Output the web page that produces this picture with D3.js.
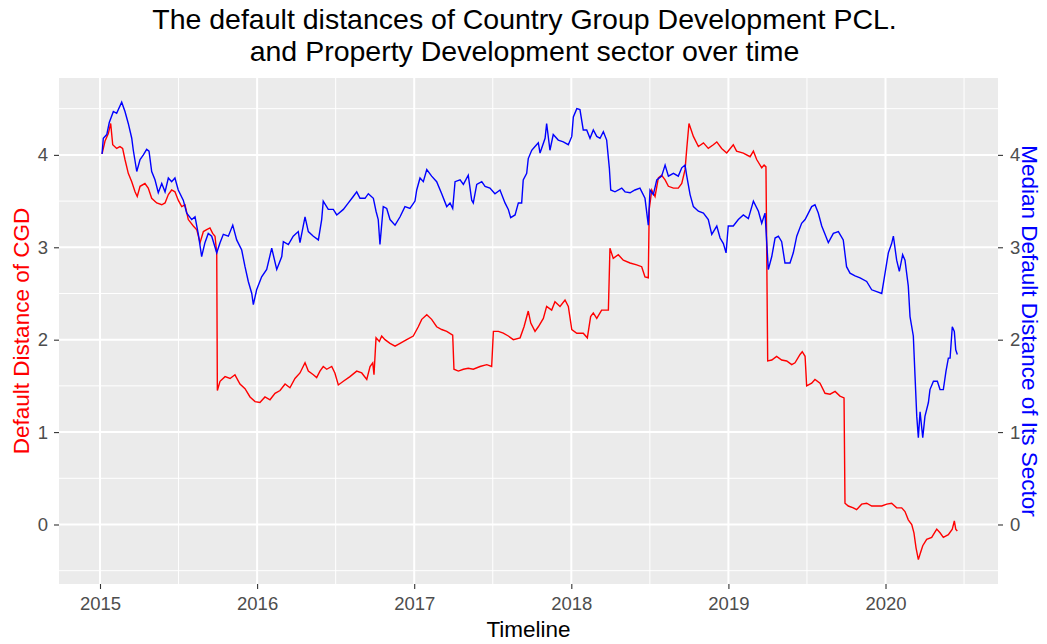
<!DOCTYPE html>
<html>
<head>
<meta charset="utf-8">
<script src="https://cdn.jsdelivr.net/npm/d3@7"></script>
<style>
  body { margin: 0; background: #fff; }
  text { font-family: "Liberation Sans", Arial, sans-serif; }
</style>
</head>
<body>
<div class="chart"></div>
<script>
// CGD default distance (left axis)
const cgdYear = [2015.013,2015.032,2015.053,2015.068,2015.081,2015.106,2015.127,2015.144,2015.159,2015.180,2015.202,2015.223,2015.237,2015.255,2015.286,2015.307,2015.329,2015.361,2015.393,2015.414,2015.435,2015.456,2015.477,2015.498,2015.520,2015.541,2015.562,2015.594,2015.616,2015.637,2015.658,2015.679,2015.700,2015.717,2015.732,2015.743,2015.747,
  2015.764,2015.796,2015.828,2015.859,2015.891,2015.923,2015.955,2015.987,2016.018,2016.050,2016.082,2016.114,2016.146,2016.178,2016.209,2016.241,2016.273,2016.305,2016.326,2016.358,2016.379,2016.400,2016.421,2016.443,2016.475,2016.495,2016.517,2016.549,2016.591,2016.634,2016.666,2016.698,2016.719,2016.736,2016.744,2016.757,2016.778,2016.793,2016.814,2016.846,2016.878,2016.910,2016.952,2016.994,
  2017.026,2017.048,2017.080,2017.111,2017.143,2017.175,2017.207,2017.245,2017.253,2017.281,2017.313,2017.344,2017.376,2017.419,2017.462,2017.493,2017.504,2017.536,2017.567,2017.599,2017.631,2017.674,2017.699,2017.726,2017.742,2017.769,2017.790,2017.822,2017.843,2017.875,2017.896,2017.928,2017.960,2017.981,
  2018.003,2018.035,2018.076,2018.102,2018.123,2018.140,2018.162,2018.193,2018.236,2018.246,2018.267,2018.299,2018.331,2018.374,2018.416,2018.448,2018.469,2018.490,2018.496,2018.512,2018.533,2018.554,2018.575,2018.597,2018.618,2018.650,2018.681,2018.703,2018.724,2018.735,2018.749,2018.777,2018.809,2018.841,2018.872,2018.904,2018.926,2018.957,2018.989,
  2019.031,2019.052,2019.095,2019.138,2019.159,2019.180,2019.212,2019.227,2019.239,2019.250,2019.276,2019.307,2019.339,2019.371,2019.403,2019.424,2019.456,2019.470,2019.488,2019.498,2019.530,2019.551,2019.583,2019.615,2019.647,2019.679,2019.710,2019.736,2019.742,2019.763,2019.795,2019.816,2019.848,2019.880,2019.912,2019.944,2019.976,
  2020.008,2020.039,2020.071,2020.103,2020.124,2020.145,2020.167,2020.181,2020.194,2020.209,2020.220,2020.237,2020.262,2020.294,2020.326,2020.347,2020.368,2020.400,2020.425,2020.438,2020.447,2020.457];
const cgdValue = [4.01,4.15,4.23,4.34,4.11,4.07,4.09,4.07,3.95,3.80,3.71,3.60,3.55,3.66,3.69,3.64,3.53,3.48,3.46,3.48,3.57,3.62,3.60,3.51,3.44,3.46,3.30,3.23,3.19,3.05,3.17,3.19,3.21,3.15,3.12,2.94,1.45,
  1.55,1.60,1.58,1.62,1.52,1.47,1.38,1.33,1.32,1.38,1.35,1.42,1.45,1.52,1.48,1.58,1.64,1.75,1.66,1.62,1.59,1.66,1.71,1.68,1.71,1.64,1.51,1.55,1.60,1.66,1.64,1.57,1.71,1.75,1.62,2.02,1.98,2.04,2.00,1.96,1.93,1.96,2.00,2.04,
  2.14,2.22,2.27,2.22,2.14,2.11,2.09,2.05,1.68,1.66,1.68,1.69,1.68,1.71,1.73,1.71,2.09,2.09,2.07,2.04,2.00,2.02,2.14,2.31,2.18,2.09,2.14,2.23,2.36,2.32,2.41,2.36,2.43,2.36,
  2.11,2.07,2.07,2.02,2.25,2.29,2.23,2.32,2.32,2.99,2.88,2.92,2.86,2.83,2.81,2.79,2.68,2.67,3.41,3.62,3.55,3.75,3.78,3.73,3.66,3.64,3.64,3.69,3.84,4.07,4.34,4.20,4.09,4.13,4.07,4.11,4.14,4.07,4.02,
  4.11,4.04,4.02,3.98,4.04,3.95,3.86,3.89,3.87,1.77,1.78,1.82,1.78,1.77,1.73,1.75,1.84,1.87,1.82,1.50,1.53,1.57,1.53,1.42,1.41,1.44,1.39,1.37,0.23,0.20,0.18,0.16,0.22,0.23,0.20,0.20,0.20,
  0.22,0.23,0.18,0.18,0.14,0.05,0.00,-0.09,-0.25,-0.38,-0.32,-0.23,-0.16,-0.14,-0.05,-0.09,-0.14,-0.11,-0.05,0.04,-0.05,-0.07];

// median default distance of the property development sector (right axis)
const sectorYear = [2015.013,2015.021,2015.043,2015.059,2015.085,2015.106,2015.138,2015.159,2015.180,2015.202,2015.212,2015.234,2015.255,2015.276,2015.297,2015.312,2015.329,2015.350,2015.371,2015.393,2015.414,2015.435,2015.456,2015.477,2015.498,2015.530,2015.552,2015.584,2015.605,2015.626,2015.647,2015.668,2015.689,2015.711,2015.743,2015.764,2015.785,2015.817,2015.845,2015.870,2015.902,2015.923,2015.944,2015.966,2015.976,2015.997,
  2016.029,2016.061,2016.093,2016.125,2016.157,2016.167,2016.199,2016.230,2016.262,2016.273,2016.305,2016.326,2016.358,2016.390,2016.411,2016.421,2016.453,2016.485,2016.507,2016.549,2016.581,2016.612,2016.634,2016.655,2016.687,2016.708,2016.740,2016.757,2016.771,2016.782,2016.803,2016.825,2016.846,2016.878,2016.910,2016.941,2016.973,
  2017.005,2017.016,2017.037,2017.058,2017.080,2017.111,2017.143,2017.175,2017.207,2017.228,2017.245,2017.260,2017.292,2017.313,2017.344,2017.366,2017.376,2017.398,2017.430,2017.451,2017.482,2017.514,2017.546,2017.578,2017.599,2017.614,2017.642,2017.663,2017.684,2017.694,2017.716,2017.726,2017.748,2017.769,2017.790,2017.801,2017.833,2017.843,2017.864,2017.885,2017.917,2017.949,2017.981,
  2018.003,2018.013,2018.035,2018.055,2018.076,2018.098,2018.119,2018.140,2018.162,2018.183,2018.204,2018.225,2018.242,2018.251,2018.278,2018.321,2018.342,2018.374,2018.405,2018.437,2018.469,2018.490,2018.501,2018.522,2018.544,2018.575,2018.597,2018.618,2018.650,2018.681,2018.703,2018.724,2018.735,2018.756,2018.777,2018.809,2018.841,2018.872,2018.894,2018.926,2018.947,2018.968,2018.985,2018.999,
  2019.031,2019.063,2019.095,2019.127,2019.159,2019.191,2019.212,2019.233,2019.244,2019.254,2019.276,2019.297,2019.318,2019.339,2019.360,2019.392,2019.413,2019.435,2019.466,2019.488,2019.509,2019.530,2019.551,2019.572,2019.594,2019.615,2019.636,2019.668,2019.700,2019.731,2019.752,2019.774,2019.806,2019.838,2019.880,2019.912,2019.944,2019.976,2019.997,
  2020.018,2020.039,2020.050,2020.071,2020.088,2020.109,2020.124,2020.145,2020.156,2020.177,2020.188,2020.199,2020.209,2020.220,2020.237,2020.251,2020.273,2020.283,2020.305,2020.330,2020.347,2020.368,2020.385,2020.400,2020.411,2020.425,2020.438,2020.447,2020.457];
const sectorValue = [4.01,4.18,4.22,4.35,4.47,4.45,4.57,4.47,4.34,4.18,4.05,3.82,3.95,4.00,4.06,4.04,3.82,3.73,3.59,3.69,3.60,3.75,3.71,3.75,3.62,3.51,3.37,3.30,3.33,3.14,2.90,3.05,3.15,3.12,2.94,3.05,3.14,3.12,3.24,3.08,2.97,2.79,2.63,2.50,2.38,2.54,
  2.68,2.76,2.99,2.76,2.90,3.06,3.03,3.12,3.17,3.05,3.33,3.17,3.12,3.08,3.30,3.50,3.41,3.41,3.35,3.41,3.48,3.55,3.60,3.53,3.53,3.58,3.53,3.39,3.30,3.03,3.44,3.42,3.30,3.24,3.33,3.44,3.42,
  3.50,3.62,3.75,3.71,3.84,3.77,3.71,3.58,3.44,3.48,3.42,3.71,3.73,3.68,3.78,3.51,3.48,3.68,3.71,3.66,3.64,3.58,3.62,3.48,3.41,3.32,3.35,3.48,3.48,3.73,3.80,3.96,4.05,4.09,4.13,4.02,4.18,4.34,4.05,4.22,4.16,4.14,4.11,
  4.20,4.41,4.50,4.49,4.27,4.27,4.18,4.27,4.20,4.18,4.25,4.16,3.86,3.62,3.60,3.64,3.60,3.59,3.62,3.64,3.53,3.24,3.62,3.57,3.73,3.77,3.89,3.77,3.80,3.77,3.86,3.89,3.77,3.57,3.44,3.39,3.37,3.30,3.14,3.23,3.10,3.04,2.94,3.23,
  3.23,3.30,3.35,3.31,3.50,3.39,3.26,3.37,3.05,2.76,2.90,3.10,3.12,3.06,2.83,2.83,2.94,3.12,3.26,3.30,3.37,3.44,3.46,3.37,3.23,3.14,3.05,3.15,3.17,3.08,2.79,2.72,2.69,2.67,2.63,2.54,2.52,2.50,2.72,
  2.94,3.04,3.12,2.86,2.74,2.92,2.86,2.58,2.25,2.04,1.60,1.17,0.94,1.22,0.94,1.17,1.32,1.46,1.55,1.55,1.46,1.46,1.66,1.80,1.80,2.14,2.09,1.89,1.84];

const yearTicks = [2015, 2016, 2017, 2018, 2019, 2020];
const valueTicks = [0, 1, 2, 3, 4];

const W = 1047, H = 644;
const margin = { left: 59, right: 49, top: 78, bottom: 60 };
const x0 = margin.left, x1 = W - margin.right;
const y0 = margin.top, y1 = H - margin.bottom;

const xScale = d3.scaleLinear().domain([2014.739, 2020.716]).range([x0, x1]);
const yScale = d3.scaleLinear().domain([-0.644, 4.832]).range([y1, y0]);

const svg = d3.select(".chart").append("svg")
  .attr("width", W).attr("height", H);

// panel
svg.append("rect")
  .attr("x", x0).attr("y", y0)
  .attr("width", x1 - x0).attr("height", y1 - y0)
  .attr("fill", "#EBEBEB");

const minorX = d3.range(2015.5, 2020.6, 1);
const minorY = d3.range(-0.5, 4.6, 1);

svg.selectAll(".gx-minor").data(minorX).enter().append("line")
  .attr("x1", d => xScale(d)).attr("x2", d => xScale(d))
  .attr("y1", y0).attr("y2", y1)
  .attr("stroke", "#fff").attr("stroke-width", 1);
svg.selectAll(".gy-minor").data(minorY).enter().append("line")
  .attr("x1", x0).attr("x2", x1)
  .attr("y1", d => yScale(d)).attr("y2", d => yScale(d))
  .attr("stroke", "#fff").attr("stroke-width", 1);
svg.selectAll(".gx").data(yearTicks).enter().append("line")
  .attr("x1", d => xScale(d)).attr("x2", d => xScale(d))
  .attr("y1", y0).attr("y2", y1)
  .attr("stroke", "#fff").attr("stroke-width", 2);
svg.selectAll(".gy").data(valueTicks).enter().append("line")
  .attr("x1", x0).attr("x2", x1)
  .attr("y1", d => yScale(d)).attr("y2", d => yScale(d))
  .attr("stroke", "#fff").attr("stroke-width", 2);

// lines
const cgd = cgdYear.map((t, i) => [t, cgdValue[i]]);
const sector = sectorYear.map((t, i) => [t, sectorValue[i]]);
const line = d3.line().x(d => xScale(d[0])).y(d => yScale(d[1]));

svg.append("path").datum(cgd)
  .attr("d", line).attr("fill", "none")
  .attr("stroke", "#FF0000").attr("stroke-width", 1.4);
svg.append("path").datum(sector)
  .attr("d", line).attr("fill", "none")
  .attr("stroke", "#0000FF").attr("stroke-width", 1.4);

// axes
function styleAxis(g) {
  g.select(".domain").remove();
  g.selectAll(".tick line").attr("stroke", "#333").attr("stroke-width", 1.1);
  g.selectAll(".tick text").attr("fill", "#4D4D4D")
    .style("font-size", "18.5px").style("font-family", '"Liberation Sans", Arial, sans-serif');
}

svg.append("g").attr("transform", `translate(0,${y1})`)
  .call(d3.axisBottom(xScale).tickValues(yearTicks).tickFormat(d3.format("d")).tickSize(5).tickPadding(8))
  .call(styleAxis);
svg.append("g").attr("transform", `translate(${x0},0)`)
  .call(d3.axisLeft(yScale).tickValues(valueTicks).tickFormat(d3.format("d")).tickSize(5).tickPadding(6))
  .call(styleAxis);
svg.append("g").attr("transform", `translate(${x1},0)`)
  .call(d3.axisRight(yScale).tickValues(valueTicks).tickFormat(d3.format("d")).tickSize(5).tickPadding(7))
  .call(styleAxis);

// titles
const cx = (x0 + x1) / 2 - 4;
svg.append("text").attr("x", cx).attr("y", 29)
  .attr("text-anchor", "middle").style("font-size", "28.5px").attr("fill", "#000")
  .text("The default distances of Country Group Development PCL.");
svg.append("text").attr("x", cx).attr("y", 61)
  .attr("text-anchor", "middle").style("font-size", "28.5px").attr("fill", "#000")
  .text("and Property Development sector over time");

svg.append("text").attr("x", (x0 + x1) / 2).attr("y", 637)
  .attr("text-anchor", "middle").style("font-size", "22.5px").attr("fill", "#000")
  .text("Timeline");

svg.append("text")
  .attr("transform", `translate(29,${(y0 + y1) / 2}) rotate(-90)`)
  .attr("text-anchor", "middle").style("font-size", "22.5px").attr("fill", "#FF0000")
  .text("Default Distance of CGD");

svg.append("text")
  .attr("transform", `translate(1022,${(y0 + y1) / 2}) rotate(90)`)
  .attr("text-anchor", "middle").style("font-size", "22.5px").attr("fill", "#0000FF")
  .text("Median Default Distance of Its Sector");
</script>
</body>
</html>
